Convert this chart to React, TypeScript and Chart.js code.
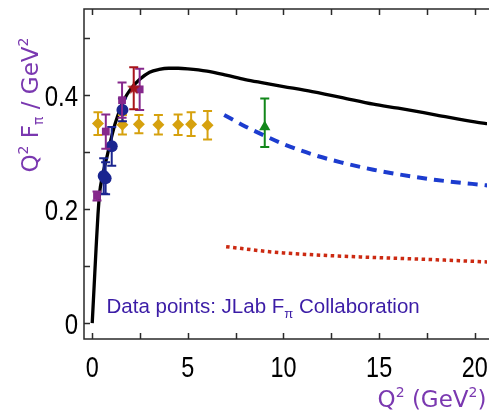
import React, { useEffect, useRef } from "react";
import { Chart, registerables } from "chart.js";
Chart.register(...registerables);

// ---- data ----
const curveQ2 = [0, 0.1, 0.2, 0.3, 0.4, 0.5, 0.6, 0.8, 1.0, 1.2, 1.5, 1.65, 2.0, 2.5, 3.0, 3.5, 4.0, 4.5, 5.0, 6.0, 7.0, 8.0, 9.0, 10, 11.5, 13, 14.7, 16, 18, 20, 20.8];
const curveF = [0, 0.065, 0.13, 0.19, 0.232, 0.252, 0.268, 0.296, 0.325, 0.35, 0.379, 0.391, 0.41, 0.428, 0.44, 0.445, 0.447, 0.447, 0.446, 0.442, 0.435, 0.427, 0.421, 0.415, 0.406, 0.396, 0.384, 0.377, 0.365, 0.353, 0.349];

const dashQ2 = [6.9, 8, 9, 10, 11.5, 13, 14.7, 16, 18, 20.8];
const dashF = [0.365, 0.345, 0.329, 0.314, 0.296, 0.282, 0.269, 0.261, 0.251, 0.241];

const dotQ2 = [7, 8, 9, 10, 12, 14, 16, 18, 20.8];
const dotF = [0.134, 0.13, 0.126, 0.123, 0.119, 0.116, 0.1135, 0.111, 0.107];

const goldQ2 = [0.3, 1.58, 2.44, 3.46, 4.49, 5.17, 6.03];
const goldF = [0.35, 0.348, 0.349, 0.348, 0.348, 0.349, 0.347];
const goldErr = [0.02, 0.017, 0.016, 0.017, 0.018, 0.021, 0.025];

const blueQ2 = [0.6, 0.7, 1.02, 1.58];
const blueF = [0.258, 0.254, 0.31, 0.374];
const blueErr = [0.031, 0.028, 0.034, 0.02];

const purpleQ2 = [0.25, 0.71, 1.56, 2.48];
const purpleF = [0.223, 0.336, 0.391, 0.41];
const purpleErr = [0.008, 0.03, 0.031, 0.036];

const redQ2 = [2.17];
const redF = [0.412];
const redErr = [0.037];

const greenQ2 = [9.02];
const greenF = [0.344];
const greenErrUp = [0.05];
const greenErrDown = [0.035];

const xTicks = [0, 2.5, 5, 7.5, 10, 12.5, 15, 17.5, 20];
const xTickLabels = [0, 5, 10, 15, 20];
const yTicks = [0, 0.1, 0.2, 0.3, 0.4, 0.5];
const yTickLabels = [0, 0.2, 0.4];

const pts = (xs: number[], ys: number[]) => xs.map((x, i) => ({ x, y: ys[i] }));

function makeStar(color: string, r: number) {
  const c = document.createElement("canvas");
  const s = Math.ceil(r * 2 + 2);
  c.width = s;
  c.height = s;
  const g = c.getContext("2d")!;
  g.fillStyle = color;
  g.beginPath();
  for (let i = 0; i < 10; i++) {
    const rr = i % 2 === 0 ? r : r * 0.42;
    const a = -Math.PI / 2 + (i * Math.PI) / 5;
    const px = s / 2 + rr * Math.cos(a);
    const py = s / 2 + rr * Math.sin(a);
    if (i === 0) g.moveTo(px, py);
    else g.lineTo(px, py);
  }
  g.closePath();
  g.fill();
  return c;
}

type Seg = { t: string; size: number; dy: number };
function drawRich(ctx: CanvasRenderingContext2D, segs: Seg[], x: number, y: number, family: string, center: boolean) {
  let total = 0;
  const ws: number[] = [];
  for (const s of segs) {
    ctx.font = `${s.size}px ${family}`;
    const w = ctx.measureText(s.t).width;
    ws.push(w);
    total += w;
  }
  let cx = center ? x - total / 2 : x;
  segs.forEach((s, i) => {
    ctx.font = `${s.size}px ${family}`;
    ctx.fillText(s.t, cx, y + s.dy);
    cx += ws[i];
  });
}

export default function App() {
  const ref = useRef<HTMLCanvasElement>(null);
  useEffect(() => {
    const canvas = ref.current!;
    const star = makeStar("#a8141a", 7);

    const errInfo: Record<number, { xs: number[]; ys: number[]; lo: number[]; hi: number[]; color: string }> = {};

    const datasets: any[] = [
      {
        label: "curve",
        data: pts(curveQ2, curveF),
        showLine: true,
        borderColor: "#000000",
        borderWidth: 3.3,
        pointRadius: 0,
        cubicInterpolationMode: "monotone",
        order: 10,
      },
      {
        label: "dashed",
        data: pts(dashQ2, dashF),
        showLine: true,
        borderColor: "#1c3ccf",
        borderWidth: 4,
        borderDash: [10, 7],
        pointRadius: 0,
        cubicInterpolationMode: "monotone",
        order: 10,
      },
      {
        label: "dotted",
        data: pts(dotQ2, dotF),
        showLine: true,
        borderColor: "#cc2a12",
        borderWidth: 3.5,
        borderDash: [3.5, 3.5],
        pointRadius: 0,
        cubicInterpolationMode: "monotone",
        order: 10,
      },
      {
        label: "gold",
        data: pts(goldQ2, goldF),
        pointStyle: "rectRot",
        pointRadius: 6,
        backgroundColor: "#d6a10e",
        borderColor: "#d6a10e",
        borderWidth: 0,
        order: 5,
      },
      {
        label: "blue",
        data: pts(blueQ2, blueF),
        pointStyle: "circle",
        pointRadius: 6,
        backgroundColor: "#1a2590",
        borderColor: "#1a2590",
        borderWidth: 0,
        order: 4,
      },
      {
        label: "purple",
        data: pts(purpleQ2, purpleF),
        pointStyle: "rect",
        pointRadius: 5.5,
        backgroundColor: "#86288c",
        borderColor: "#86288c",
        borderWidth: 0,
        order: 3,
      },
      {
        label: "red",
        data: pts(redQ2, redF),
        pointStyle: star,
        pointRadius: 7,
        backgroundColor: "#a8141a",
        borderColor: "#a8141a",
        order: 2,
      },
      {
        label: "green",
        data: pts(greenQ2, greenF),
        pointStyle: "triangle",
        pointRadius: 6.5,
        backgroundColor: "#12871a",
        borderColor: "#12871a",
        borderWidth: 0,
        order: 1,
      },
    ];
    errInfo[3] = { xs: goldQ2, ys: goldF, lo: goldErr, hi: goldErr, color: "#d6a10e" };
    errInfo[4] = { xs: blueQ2, ys: blueF, lo: blueErr, hi: blueErr, color: "#1a2590" };
    errInfo[5] = { xs: purpleQ2, ys: purpleF, lo: purpleErr, hi: purpleErr, color: "#86288c" };
    errInfo[6] = { xs: redQ2, ys: redF, lo: redErr, hi: redErr, color: "#a8141a" };
    errInfo[7] = { xs: greenQ2, ys: greenF, lo: greenErrDown, hi: greenErrUp, color: "#12871a" };

    const errorBars = {
      id: "errorBars",
      beforeDatasetDraw(chart: any, args: any) {
        const info = errInfo[args.index];
        if (!info) return;
        const ctx = chart.ctx as CanvasRenderingContext2D;
        const xs = chart.scales.x;
        const ys = chart.scales.y;
        ctx.save();
        ctx.strokeStyle = info.color;
        ctx.lineWidth = 2;
        info.xs.forEach((q, i) => {
          const px = xs.getPixelForValue(q);
          const y1 = ys.getPixelForValue(info.ys[i] - info.lo[i]);
          const y2 = ys.getPixelForValue(info.ys[i] + info.hi[i]);
          ctx.beginPath();
          ctx.moveTo(px, y1);
          ctx.lineTo(px, y2);
          ctx.moveTo(px - 4.5, y1);
          ctx.lineTo(px + 4.5, y1);
          ctx.moveTo(px - 4.5, y2);
          ctx.lineTo(px + 4.5, y2);
          ctx.stroke();
        });
        ctx.restore();
      },
    };

    const frame = {
      id: "frame",
      afterDraw(chart: any) {
        const ctx = chart.ctx as CanvasRenderingContext2D;
        const a = chart.chartArea;
        const xs = chart.scales.x;
        const ys = chart.scales.y;
        ctx.save();
        ctx.strokeStyle = "#2a2a2a";
        ctx.lineWidth = 1.5;
        ctx.beginPath();
        ctx.moveTo(a.right + 2, a.top);
        ctx.lineTo(a.left, a.top);
        ctx.lineTo(a.left, a.bottom);
        ctx.lineTo(a.right + 2, a.bottom);
        const tl = 6;
        xTicks.forEach((v) => {
          const px = Math.round(xs.getPixelForValue(v)) + 0.5;
          ctx.moveTo(px, a.bottom);
          ctx.lineTo(px, a.bottom - tl);
          ctx.moveTo(px, a.top);
          ctx.lineTo(px, a.top + tl);
        });
        yTicks.forEach((v) => {
          const py = Math.round(ys.getPixelForValue(v)) + 0.5;
          ctx.moveTo(a.left, py);
          ctx.lineTo(a.left + tl, py);
        });
        ctx.stroke();

        // tick labels (condensed)
        ctx.fillStyle = "#000";
        ctx.font = "30px 'Liberation Sans', Arial, sans-serif";
        ctx.textBaseline = "alphabetic";
        xTickLabels.forEach((v) => {
          const px = xs.getPixelForValue(v);
          ctx.save();
          ctx.translate(px, a.bottom + 38);
          ctx.scale(0.78, 1);
          ctx.textAlign = "center";
          ctx.fillText(String(v), 0, 0);
          ctx.restore();
        });
        yTickLabels.forEach((v) => {
          const py = ys.getPixelForValue(v);
          ctx.save();
          ctx.translate(a.left - 6, py + 11);
          ctx.scale(0.8, 1);
          ctx.textAlign = "right";
          ctx.fillText(String(v), 0, 0);
          ctx.restore();
        });
        ctx.textAlign = "left";

        // axis titles
        const fam = "'DejaVu Sans', sans-serif";
        ctx.fillStyle = "#7a38b0";
        drawRich(
          ctx,
          [
            { t: "Q", size: 23, dy: 0 },
            { t: "2", size: 14, dy: -10 },
            { t: " (GeV", size: 23, dy: 0 },
            { t: "2", size: 14, dy: -10 },
            { t: ")", size: 23, dy: 0 },
          ],
          432,
          407,
          fam,
          true
        );
        ctx.save();
        ctx.translate(38, 105);
        ctx.rotate(-Math.PI / 2);
        drawRich(
          ctx,
          [
            { t: "Q", size: 23, dy: 0 },
            { t: "2", size: 14, dy: -10 },
            { t: " F", size: 23, dy: 0 },
            { t: "\u03c0", size: 14, dy: 5 },
            { t: " / GeV", size: 23, dy: 0 },
            { t: "2", size: 14, dy: -10 },
          ],
          0,
          0,
          fam,
          true
        );
        ctx.restore();

        // annotation
        ctx.fillStyle = "#3b1ca6";
        drawRich(
          ctx,
          [
            { t: "Data points: JLab F", size: 20.5, dy: 0 },
            { t: "\u03c0", size: 13, dy: 5 },
            { t: " Collaboration", size: 20.5, dy: 0 },
          ],
          106.5,
          313,
          "'Liberation Sans', Arial, sans-serif",
          false
        );
        ctx.restore();
      },
    };

    const chart = new Chart(canvas, {
      type: "scatter",
      data: { datasets },
      options: {
        responsive: false,
        animation: false,
        devicePixelRatio: 1,
        layout: { padding: { top: 9, right: 0, left: 0, bottom: 0 } },
        plugins: { legend: { display: false }, tooltip: { enabled: false } },
        scales: {
          x: {
            type: "linear",
            min: -0.43,
            max: 20.64,
            grid: { display: false },
            border: { display: false },
            afterBuildTicks: (s: any) => {
              s.ticks = xTicks.map((v) => ({ value: v }));
            },
            afterFit: (s: any) => {
              s.height = 76;
              s.paddingLeft = 0;
              s.paddingRight = 0;
            },
            ticks: { display: false },
          },
          y: {
            type: "linear",
            min: -0.028,
            max: 0.551,
            grid: { display: false },
            border: { display: false },
            afterBuildTicks: (s: any) => {
              s.ticks = yTicks.map((v) => ({ value: v }));
            },
            afterFit: (s: any) => {
              s.width = 84;
              s.paddingTop = 0;
              s.paddingBottom = 0;
            },
            ticks: { display: false },
          },
        },
      },
      plugins: [errorBars, frame],
    });
    return () => chart.destroy();
  }, []);

  return (
    <div style={{ position: "absolute", left: 0, top: 0, width: 495, height: 415, background: "#fff" }}>
      <canvas ref={ref} width={495} height={415} style={{ display: "block", width: 495, height: 415 }} />
    </div>
  );
}
